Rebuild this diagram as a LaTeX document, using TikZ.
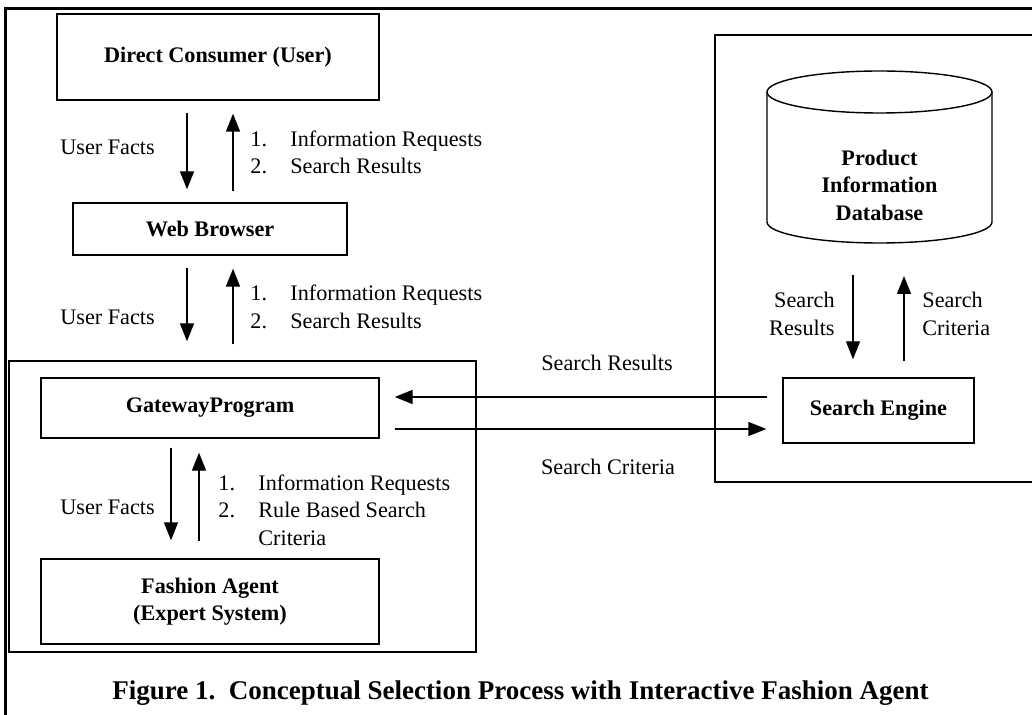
\documentclass[tikz,border=0pt]{standalone}
\usepackage{fontspec}
\setmainfont{Liberation Serif}
\usetikzlibrary{arrows.meta, positioning}
\tikzset{
    box_node/.style={
        draw=black,
        line width=0.7pt,
        inner sep=0pt,
        align=center,
        font=\fontsize{11.1pt}{13.75pt}\selectfont\bfseries
    },
    label_node/.style={
        inner sep=0pt,
        align=left,
        font=\fontsize{11.1pt}{13.75pt}\selectfont
    },
    arrow_style/.style={
        -{Triangle[length=9pt,width=7pt]},
        line width=0.7pt,
        draw=black
    },
    frame_line/.style={
        draw=black,
        line width=0.7pt
    }
}
\newcommand{\itemno}[1]{\makebox[20pt][l]{#1}}

\begin{document}
\begin{tikzpicture}[x=0.5pt, y=-0.5pt]
\useasboundingbox (0,0) rectangle (1032,715);
\clip (0,0) rectangle (1032,715);

% Outer frame
\draw[line width=1.5pt] (5,760) -- (5,9) -- (1080,9);

% Gateway frame and search frame
\draw[frame_line] (9,361) rectangle (476,652);
\draw[frame_line] (715,35) rectangle (1080,482);

% Left column
\node[box_node, minimum width=161pt, minimum height=43pt] (consumer) at (218,57) {Direct Consumer (User)};
\node[box_node, minimum width=137pt, minimum height=26pt] (browser) at (210,229) {Web Browser};
\node[box_node, minimum width=169pt, minimum height=30pt] (gateway) at (210,408) {GatewayProgram};
\node[box_node, minimum width=169pt, minimum height=42.5pt] (agent) at (210,601.5) {Fashion Agent\\(Expert System)};

% Database cylinder
\draw[frame_line] (879.5,92) ellipse [x radius=56.25pt, y radius=10.5pt];
\draw[frame_line] (767,92) -- (767,222) arc [start angle=180, end angle=360, x radius=56.25pt, y radius=10.5pt] -- (992,92);
\node[box_node, draw=none] (db) at (879.5,185) {Product\\Information\\Database};
\coordinate (db_base) at (879.5,242);

% Search engine
\node[box_node, minimum width=95.5pt, minimum height=32.5pt] (engine) at (878.5,410.5) {Search Engine};

% Consumer <-> browser
\draw[arrow_style, shorten <=6pt, shorten >=6.5pt] ([xshift=-15.5pt]consumer.south) -- ([xshift=-15.5pt]consumer.south |- browser.north);
\draw[arrow_style, shorten <=5.5pt, shorten >=6.5pt] ([xshift=7.5pt]consumer.south |- browser.north) -- ([xshift=7.5pt]consumer.south);
\node[label_node, anchor=west] (facts_a) at (60,147) {User Facts};
\node[label_node, anchor=west] (requests_a) at (250,152.5) {\itemno{1.}Information Requests\\\itemno{2.}Search Results};

% Browser <-> gateway
\draw[arrow_style, shorten <=6pt, shorten >=18pt] ([xshift=-11.5pt]browser.south) -- ([xshift=-11.5pt]browser.south |- gateway.north);
\draw[arrow_style, shorten <=16.5pt, shorten >=6.5pt] ([xshift=11.5pt]browser.south |- gateway.north) -- ([xshift=11.5pt]browser.south);
\node[label_node, anchor=west] (facts_b) at (60,317) {User Facts};
\node[label_node, anchor=west] (requests_b) at (250,307) {\itemno{1.}Information Requests\\\itemno{2.}Search Results};

% Gateway <-> agent
\draw[arrow_style, shorten <=4.5pt, shorten >=9pt] ([xshift=-19.5pt]gateway.south) -- ([xshift=-19.5pt]gateway.south |- agent.north);
\draw[arrow_style, shorten <=8.5pt, shorten >=7pt] ([xshift=-5.5pt]gateway.south |- agent.north) -- ([xshift=-5.5pt]gateway.south);
\node[label_node, anchor=west] (facts_c) at (60,507) {User Facts};
\node[label_node, anchor=west] (requests_c) at (218,510) {\itemno{1.}Information Requests\\\itemno{2.}Rule Based Search\\\itemno{}Criteria};

% Database <-> engine
\draw[arrow_style, shorten <=16.5pt, shorten >=9pt] ([xshift=-13.25pt]db_base) -- ([xshift=-13.25pt]db_base |- engine.north);
\draw[arrow_style, shorten <=8pt, shorten >=17pt] ([xshift=12.25pt]db_base |- engine.north) -- ([xshift=12.25pt]db_base);
\node[label_node, anchor=east, align=right] (results_db) at (835,314) {Search\\Results};
\node[label_node, anchor=west] (criteria_db) at (922,314) {Search\\Criteria};

% Gateway <-> engine
\coordinate (results_y) at ([yshift=5.5pt]gateway.east);
\coordinate (criteria_y) at ([yshift=-10.5pt]gateway.east);
\draw[arrow_style, shorten <=7.5pt, shorten >=7.5pt] (engine.west |- results_y) -- (results_y);
\draw[arrow_style, shorten <=7.5pt, shorten >=8pt] (criteria_y) -- (engine.west |- criteria_y);
\node[label_node] (results_label) at (607,363) {Search Results};
\node[label_node] (criteria_label) at (608,467) {Search Criteria};

% Caption
\node[font=\fontsize{13.5pt}{16pt}\selectfont\bfseries, inner sep=0pt] (caption) at (520.5,693) {Figure 1.\ \ Conceptual Selection Process with Interactive Fashion Agent};

\end{tikzpicture}
\end{document}
